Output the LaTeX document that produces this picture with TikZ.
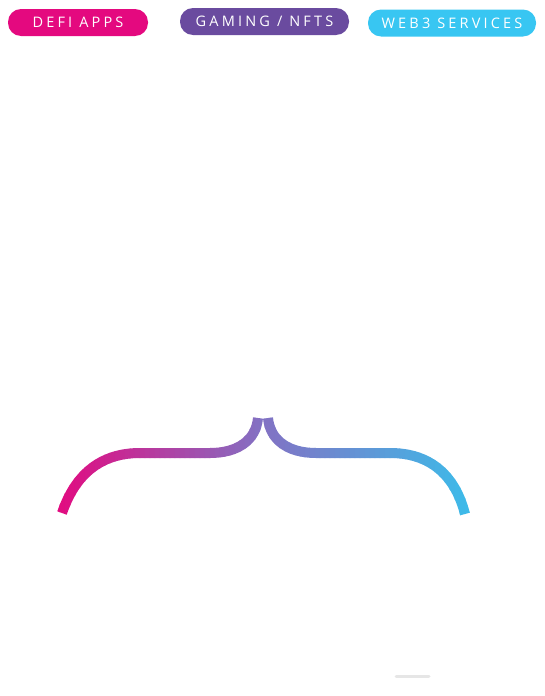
\documentclass[tikz,border=0pt]{standalone}
\usepackage{fontspec}
\setsansfont{Open Sans}[LetterSpace=22]
\usepackage{xcolor}

\definecolor{defipink}{HTML}{E4097F}
\definecolor{gamingpurple}{HTML}{6A4B9F}
\definecolor{webcyan}{HTML}{38C6F2}
\definecolor{bracemid}{HTML}{8272C4}
\definecolor{bracecyan}{HTML}{3BBDEA}
\definecolor{barsgrey}{HTML}{E6E6E6}

\newcommand\bracepath{%
  (62,513) .. controls (75,475) and (100,453) .. (140,453) -- (210,453)
  .. controls (238,453) and (256,440) .. (258,418)
  (268,418) .. controls (270,440) and (288,453) .. (316,453) -- (390,453)
  .. controls (430,453) and (455,475) .. (465,514)}

\begin{document}
\begin{tikzpicture}[x=1pt,y=-1pt]
  \tikzstyle{pill}=[rounded corners=13pt,minimum height=27pt,inner sep=0pt,text=white,font=\sffamily\fontsize{14.5}{14.5}\selectfont]
  \tikzstyle{bracestroke}=[line width=10pt]
  \useasboundingbox (0,0) rectangle (545,696);
  \node[pill,fill=defipink,minimum width=140pt] (defi) at (78,22.5) {DEFI APPS};
  \node[pill,fill=gamingpurple,minimum width=169pt] (gaming) at (264.5,21.5) {GAMING / NFTS};
  \node[pill,fill=webcyan,minimum width=168pt] (web3) at (452,23) {WEB3 SERVICES};
  \foreach \i in {0,...,41} {
    \pgfmathsetmacro\xa{55+5*\i}
    \pgfmathsetmacro\pct{(\xa+2.5-55)/208.5*100}
    \begin{scope}
      \clip (\xa-0.4,400) rectangle (\xa+5.4,530);
      \draw[bracestroke,draw=bracemid!\pct!defipink] \bracepath;
    \end{scope}
  }
  \foreach \i in {0,...,41} {
    \pgfmathsetmacro\xa{265+5*\i}
    \pgfmathsetmacro\pct{(\xa+2.5-265)/210*100}
    \begin{scope}
      \clip (\xa-0.4,400) rectangle (\xa+5.4,530);
      \draw[bracestroke,draw=bracecyan!\pct!bracemid] \bracepath;
    \end{scope}
  }
  \draw[barsgrey,line width=3pt,line cap=round] (396,676) -- (429,676);
\end{tikzpicture}
\end{document}
